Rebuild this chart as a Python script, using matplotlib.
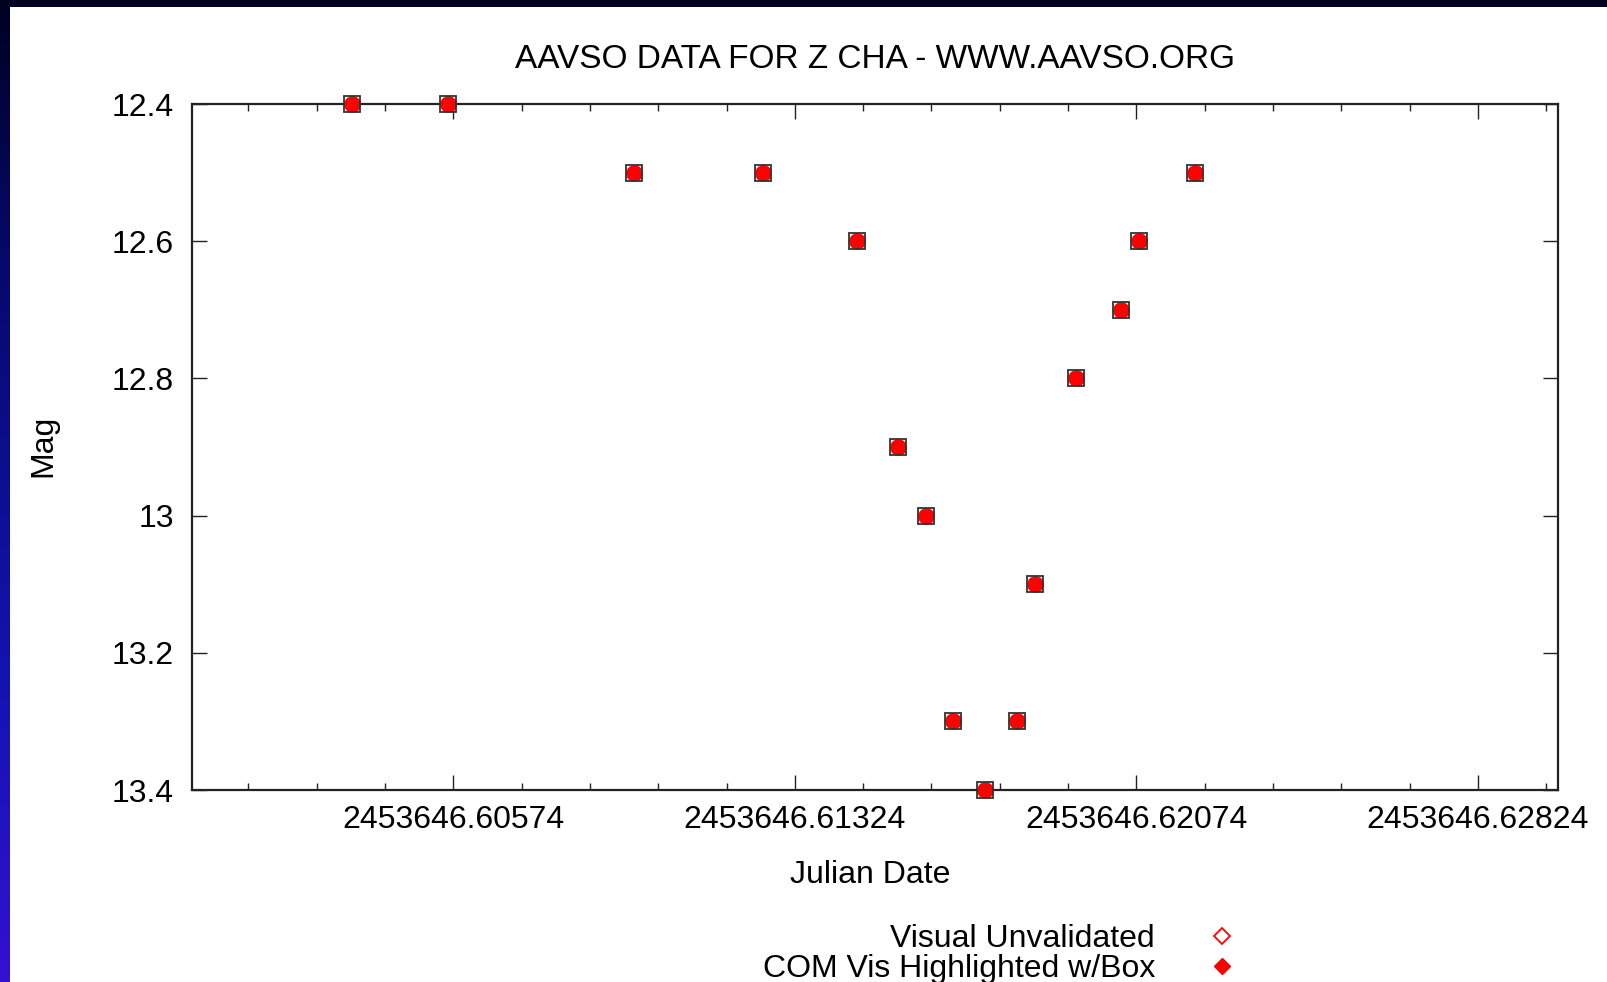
import numpy as np
import matplotlib
matplotlib.use('Agg')
import matplotlib.pyplot as plt
from matplotlib.ticker import FixedLocator, AutoMinorLocator, FormatStrFormatter
from matplotlib.lines import Line2D
from matplotlib.patches import Rectangle

# Z Cha observations (Julian Date, visual magnitude)
jd = [2453646.60352, 2453646.60562, 2453646.60971, 2453646.61253, 2453646.61460,
      2453646.61551, 2453646.61611, 2453646.61672, 2453646.61742, 2453646.61811,
      2453646.61851, 2453646.61941, 2453646.62040, 2453646.62080, 2453646.62203]
mag = [12.4, 12.4, 12.5, 12.5, 12.6,
       12.9, 13.0, 13.3, 13.4, 13.3,
       13.1, 12.8, 12.7, 12.6, 12.5]

x_ticks = [2453646.60574, 2453646.61324, 2453646.62074, 2453646.62824]
y_ticks = [12.4, 12.6, 12.8, 13.0, 13.2, 13.4]
y_labels = ['12.4', '12.6', '12.8', '13', '13.2', '13.4']
legend_names = ['Visual Unvalidated', 'COM Vis Highlighted w/Box']

plt.rcParams['font.family'] = ['Liberation Sans', 'DejaVu Sans']
FS = 23
W, H = 1607, 982

fig = plt.figure(figsize=(W / 100, H / 100), dpi=100)

# slide background: dark blue gradient behind a white panel
bg = fig.add_axes([0, 0, 1, 1])
bg.set_axis_off()
stops = np.array([0, 250, 700, 982]) / 982
cols = np.array([[1, 1, 32], [6, 8, 106], [20, 20, 180], [52, 16, 208]]) / 255
t = np.linspace(0, 1, 256)
grad = np.stack([np.interp(t, stops, cols[:, i]) for i in range(3)], axis=1)
bg.imshow(grad[:, None, :], aspect='auto', extent=[0, 1, 1, 0])
bg.set_xlim(0, 1)
bg.set_ylim(1, 0)
fig.add_artist(Rectangle((10 / W, 0), 1, 1 - 7 / H, transform=fig.transFigure,
                         facecolor='white', edgecolor='none', zorder=1))

ax = fig.add_axes([192 / W, (H - 790) / H, (1558 - 192) / W, (790 - 104) / H], zorder=2)
ax.plot(jd, mag, 'o', color='red', ms=11, mec='red', clip_on=False, zorder=3)
ax.plot(jd, mag, 's', mfc='none', mec='#333333', mew=1.3, ms=11.5, clip_on=False, zorder=4)

ax.set_xlim(2453646.600, 2453646.630)
ax.set_ylim(13.4, 12.4)
ax.xaxis.set_major_locator(FixedLocator(x_ticks))
ax.xaxis.set_major_formatter(FormatStrFormatter('%.5f'))
ax.xaxis.set_minor_locator(AutoMinorLocator(5))
ax.set_yticks(y_ticks)
ax.set_yticklabels(y_labels)

ax.tick_params(which='both', direction='in', top=True, right=True, width=1, color='#222222')
ax.tick_params(which='major', length=10.5)
ax.tick_params(which='minor', length=5)
ax.tick_params(axis='x', labelsize=FS, pad=11)
ax.tick_params(axis='y', labelsize=FS, pad=13)
for s in ax.spines.values():
    s.set_linewidth(1.6)
    s.set_color('#222222')

fig.text(875 / W, 1 - 59 / H, 'AAVSO DATA FOR Z CHA - WWW.AAVSO.ORG',
         ha='center', va='center', fontsize=24)
fig.text(870 / W, 1 - 875 / H, 'Julian Date', ha='center', va='center', fontsize=FS)
fig.text(43 / W, 1 - 446 / H, 'Mag', ha='center', va='center', rotation=90, fontsize=FS)

# key below the plot: label on the left, symbol on the right
rows = [939, 969]
fig.text(1155 / W, 1 - rows[0] / H, legend_names[0], ha='right', va='center', fontsize=FS)
fig.text(1155 / W, 1 - rows[1] / H, legend_names[1], ha='right', va='center', fontsize=FS)
fig.add_artist(Line2D([1222 / W], [1 - 936 / H], marker='D', ms=8, mfc='white',
                      mec='red', mew=1.3, transform=fig.transFigure, zorder=3))
fig.add_artist(Line2D([1222 / W], [1 - 966 / H], marker='D', ms=8, mfc='red',
                      mec='red', transform=fig.transFigure, zorder=3))

fig.savefig('out.png', dpi=100)
